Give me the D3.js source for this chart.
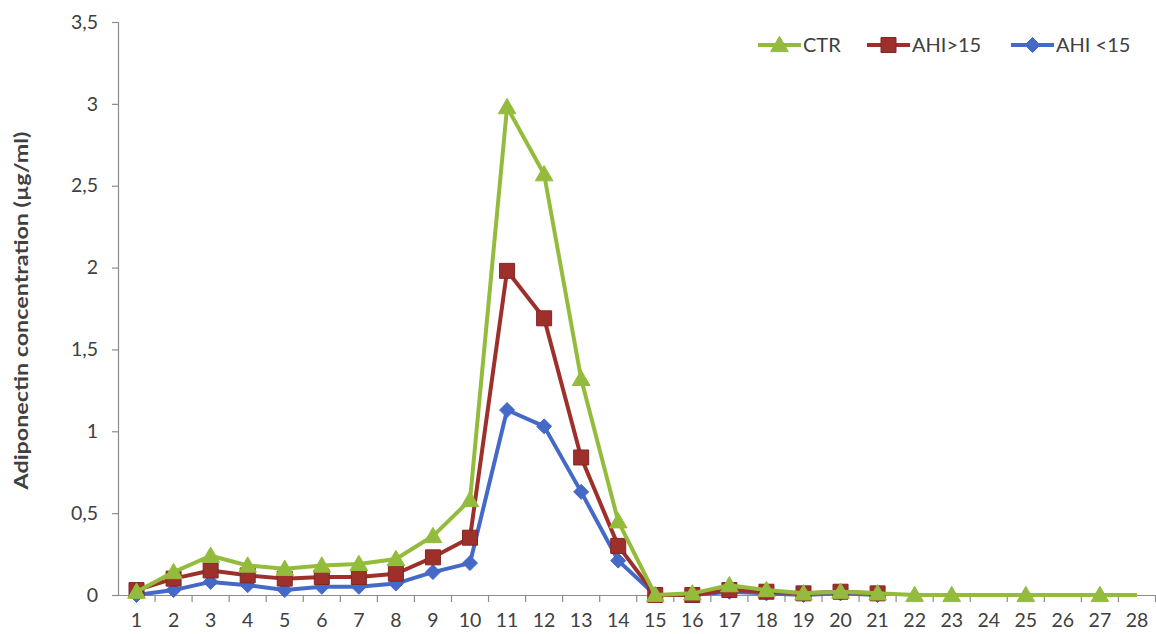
<!DOCTYPE html>
<html>
<head>
<meta charset="utf-8">
<script src="https://cdn.jsdelivr.net/npm/d3@7"></script>
<style>
  html, body { margin: 0; padding: 0; background: #fff; }
  svg text { font-family: Lato, "Open Sans", sans-serif; fill: #404040; }
</style>
</head>
<body>
<svg id="chart" width="1156" height="634"></svg>
<script>
// Fractions 1..28
const fractions = d3.range(1, 29).map(String);

// Adiponectin concentration (µg/ml) per fraction; null = not measured
const ctr    = [0.02, 0.14, 0.24, 0.18, 0.16, 0.18, 0.19, 0.22, 0.36, 0.58, 2.98, 2.57, 1.32, 0.45, 0.00, 0.01, 0.06, 0.03, 0.01, 0.02, 0.01, 0.00, 0.00, 0.00, 0.00, 0.00, 0.00, 0.00];
const ahiHigh = [0.03, 0.10, 0.15, 0.12, 0.10, 0.11, 0.11, 0.13, 0.23, 0.35, 1.98, 1.69, 0.84, 0.30, 0.00, 0.00, 0.03, 0.02, 0.01, 0.02, 0.01, null, null, null, null, null, null, null];
const ahiLow  = [0.00, 0.03, 0.08, 0.06, 0.03, 0.05, 0.05, 0.07, 0.14, 0.195, 1.13, 1.03, 0.63, 0.21, 0.00, 0.00, 0.02, 0.01, 0.00, 0.01, 0.00, null, null, null, null, null, null, null];
// CTR fractions whose line passes without a marker
const ctrUnmarked = ["24", "26", "28"];

const yTicks = [0, 0.5, 1, 1.5, 2, 2.5, 3, 3.5];

const series = [
  { name: "CTR",     values: ctr,     color: "#94BC3C", shape: "triangle", skip: ctrUnmarked },
  { name: "AHI>15",  values: ahiHigh, color: "#9E302C", shape: "square",   skip: [] },
  { name: "AHI <15", values: ahiLow,  color: "#4569C6", shape: "diamond",  skip: [] }
];

const svg = d3.select("#chart");
const plotLeft = 118, plotRight = 1155.5, plotTop = 22, plotBottom = 595;

const x = d3.scaleBand().domain(fractions).range([plotLeft, plotRight]);
const cx = c => x(c) + x.bandwidth() / 2;
const y = d3.scaleLinear().domain([0, 3.5]).range([plotBottom, plotTop]);

const fmt = v => String(v).replace(".", ",");
const axisColor = "#8c8c8c";
const labelFont = "Lato, 'Open Sans', sans-serif";

// Y axis
const yAxis = svg.append("g").attr("transform", `translate(${plotLeft},0)`)
  .call(d3.axisLeft(y).tickValues(yTicks).tickFormat(fmt).tickSize(6).tickPadding(14));
yAxis.select(".domain").attr("stroke", axisColor).attr("stroke-width", 1.2);
yAxis.selectAll(".tick line").attr("stroke", axisColor).attr("stroke-width", 1.2);
yAxis.selectAll(".tick text").attr("font-size", 19.5).attr("fill", "#404040")
  .style("font-family", labelFont);

// X axis: labels at category centres, tick marks at category boundaries
const xAxis = svg.append("g").attr("transform", `translate(0,${plotBottom})`)
  .call(d3.axisBottom(x).tickSize(0).tickPadding(18));
xAxis.select(".domain").attr("stroke", axisColor).attr("stroke-width", 1.2);
xAxis.selectAll(".tick text").attr("font-size", 19.5).attr("fill", "#404040")
  .style("font-family", labelFont);
svg.append("g").selectAll("line")
  .data(fractions)
  .join("line")
  .attr("x1", (d, i) => plotLeft + (i + 1) * x.bandwidth())
  .attr("x2", (d, i) => plotLeft + (i + 1) * x.bandwidth())
  .attr("y1", plotBottom).attr("y2", plotBottom + 7)
  .attr("stroke", axisColor).attr("stroke-width", 1.2);

// Y axis title
svg.append("text")
  .attr("transform", `translate(28,${(plotTop + plotBottom) / 2 + 2}) rotate(-90)`)
  .attr("text-anchor", "middle")
  .attr("font-size", 19.5).attr("font-weight", "bold")
  .attr("fill", "#262626")
  .attr("textLength", 358)
  .attr("lengthAdjust", "spacingAndGlyphs")
  .style("font-family", labelFont)
  .text("Adiponectin concentration (µg/ml)");

// Marker shapes
const markerPath = {
  triangle: d3.symbol().type(d3.symbolTriangle).size(135)(),
  square:   "M-7.5,-7.5H7.5V7.5H-7.5Z",
  diamond:  "M0,-7.5L7.5,0L0,7.5L-7.5,0Z"
};

function drawMarker(g, shape, color, px, py) {
  const dy = shape === "triangle" ? 1.5 : 0;
  g.append("path")
    .attr("d", markerPath[shape])
    .attr("transform", `translate(${px},${py + dy})`)
    .attr("fill", color)
    .attr("stroke", shape === "square" ? d3.color(color).darker(0.6) : color)
    .attr("stroke-width", 1);
}

// Series lines and markers (drawn blue first so green sits on top)
const line = d3.line()
  .defined(d => d.v !== null)
  .x(d => cx(d.c)).y(d => y(d.v));

series.slice().reverse().forEach(s => {
  const pts = fractions.map((c, i) => ({ c, v: s.values[i] }));
  const g = svg.append("g");
  g.append("path")
    .datum(pts)
    .attr("fill", "none")
    .attr("stroke", s.color)
    .attr("stroke-width", 4)
    .attr("stroke-linejoin", "round")
    .attr("d", line);
  pts.filter(p => p.v !== null && !s.skip.includes(p.c))
    .forEach(p => drawMarker(g, s.shape, s.color, cx(p.c), y(p.v)));
});

// Legend
const legendItems = [
  { s: series[0], x0: 758 },
  { s: series[1], x0: 867 },
  { s: series[2], x0: 1011 }
];
const ly = 45;
legendItems.forEach(({ s, x0 }) => {
  const g = svg.append("g");
  g.append("line")
    .attr("x1", x0).attr("x2", x0 + 43)
    .attr("y1", ly).attr("y2", ly)
    .attr("stroke", s.color).attr("stroke-width", 4);
  drawMarker(g, s.shape, s.color, x0 + 21.5, ly);
  g.append("text")
    .attr("x", x0 + 45).attr("y", ly + 7)
    .attr("font-size", 20).attr("fill", "#404040")
    .text(s.name);
});
</script>
</body>
</html>
